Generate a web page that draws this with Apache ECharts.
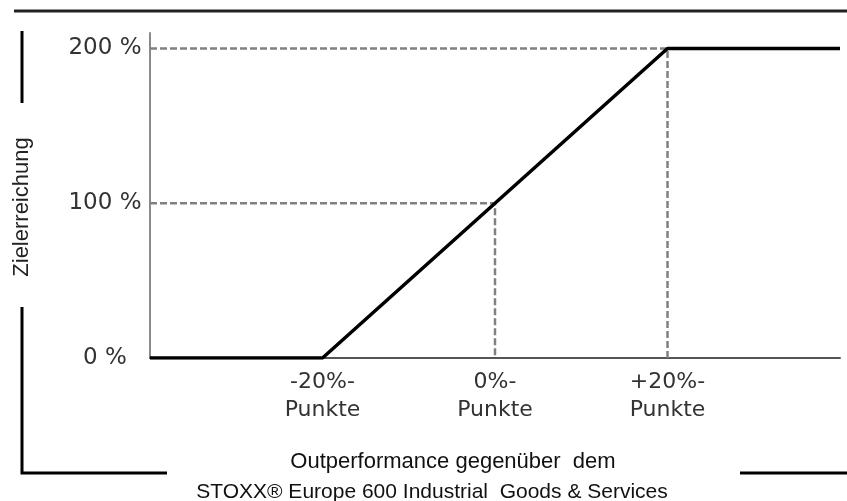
<!DOCTYPE html>
<html>
<head>
<meta charset="utf-8">
<script src="https://cdn.jsdelivr.net/npm/echarts@6/dist/echarts.min.js"></script>
<style>
    html, body { margin: 0; padding: 0; background: #fff; }
    #chart { width: 847px; height: 501px; }
</style>
</head>
<body>
<div id="chart"></div>
<script>
    // payout curve: Zielerreichung vs. Outperformance
    var curveX = [-40, -20, 20, 40];
    var curveY = [0, 0, 200, 200];

    // dashed helper lines
    var guide100X = [-40, 0, 0];
    var guide100Y = [100, 100, 0];
    var guide200X = [-40, 20, 20];
    var guide200Y = [200, 200, 0];

    var xTicks = [-20, 0, 20];
    var xTickLabels = ['-20%-\nPunkte', '0%-\nPunkte', '+20%-\nPunkte'];
    var yTicks = [0, 100, 200];
    var yTickLabels = ['0 %', '100 %', '200 %'];

    function pairs(xs, ys) {
        var out = [];
        for (var i = 0; i < xs.length; i++) {
            out.push([xs[i], ys[i]]);
        }
        return out;
    }

    var chart = echarts.init(document.getElementById('chart'));

    var dashStyle = {
        color: '#808080',
        width: 2.5,
        type: [7, 3]
    };

    var option = {
        animation: false,
        grid: {
            left: 150,
            right: 7,
            top: 33,
            bottom: 143,
            containLabel: false,
            outerBoundsMode: 'none'
        },
        xAxis: {
            type: 'value',
            min: -40,
            max: 40,
            interval: 20,
            splitLine: { show: false },
            axisTick: { show: false },
            axisLine: {
                onZero: false,
                lineStyle: { color: '#555', width: 2 }
            },
            axisLabel: {
                margin: 10,
                fontFamily: 'DejaVu Sans',
                fontSize: 22,
                lineHeight: 28,
                color: '#333',
                formatter: function (v) {
                    var i = xTicks.indexOf(v);
                    return i >= 0 ? xTickLabels[i] : '';
                }
            }
        },
        yAxis: {
            type: 'value',
            min: 0,
            max: 210,
            interval: 100,
            splitLine: { show: false },
            axisTick: { show: false },
            axisLine: {
                show: true,
                onZero: false,
                lineStyle: { color: '#8a8a8a', width: 2 }
            },
            axisLabel: {
                margin: 45,
                align: 'center',
                fontFamily: 'DejaVu Sans',
                fontSize: 23,
                color: '#333',
                formatter: function (v) {
                    var i = yTicks.indexOf(v);
                    return i >= 0 ? yTickLabels[i] : '';
                }
            }
        },
        series: [{
            type: 'line',
            data: pairs(guide200X, guide200Y),
            showSymbol: false,
            silent: true,
            lineStyle: dashStyle,
            z: 1
        }, {
            type: 'line',
            data: pairs(guide100X, guide100Y),
            showSymbol: false,
            silent: true,
            lineStyle: dashStyle,
            z: 1
        }, {
            type: 'line',
            data: pairs(curveX, curveY),
            showSymbol: false,
            lineStyle: { color: '#000', width: 3.5 },
            z: 3
        }],
        graphic: [
            { type: 'line', shape: { x1: 14, y1: 11, x2: 847, y2: 11 }, style: { stroke: '#222', lineWidth: 3 } },
            { type: 'line', shape: { x1: 22, y1: 31, x2: 22, y2: 103 }, style: { stroke: '#000', lineWidth: 3 } },
            { type: 'polyline', shape: { points: [[22, 307], [22, 473], [167, 473]] }, style: { stroke: '#000', lineWidth: 3, fill: null } },
            { type: 'line', shape: { x1: 740, y1: 473, x2: 847, y2: 473 }, style: { stroke: '#000', lineWidth: 3 } },
            {
                type: 'text', x: 22, y: 207, rotation: Math.PI / 2,
                style: {
                    text: 'Zielerreichung', fill: '#222',
                    font: '22px "Liberation Sans"',
                    align: 'center', verticalAlign: 'middle'
                }
            },
            {
                type: 'text', x: 453, y: 462,
                style: {
                    text: 'Outperformance gegenüber  dem', fill: '#111',
                    font: '22px "Liberation Sans"',
                    align: 'center', verticalAlign: 'middle'
                }
            },
            {
                type: 'text', x: 432, y: 492,
                style: {
                    text: 'STOXX® Europe 600 Industrial  Goods & Services', fill: '#111',
                    font: '21px "Liberation Sans"',
                    align: 'center', verticalAlign: 'middle'
                }
            }
        ]
    };

    chart.setOption(option);
</script>
</body>
</html>
